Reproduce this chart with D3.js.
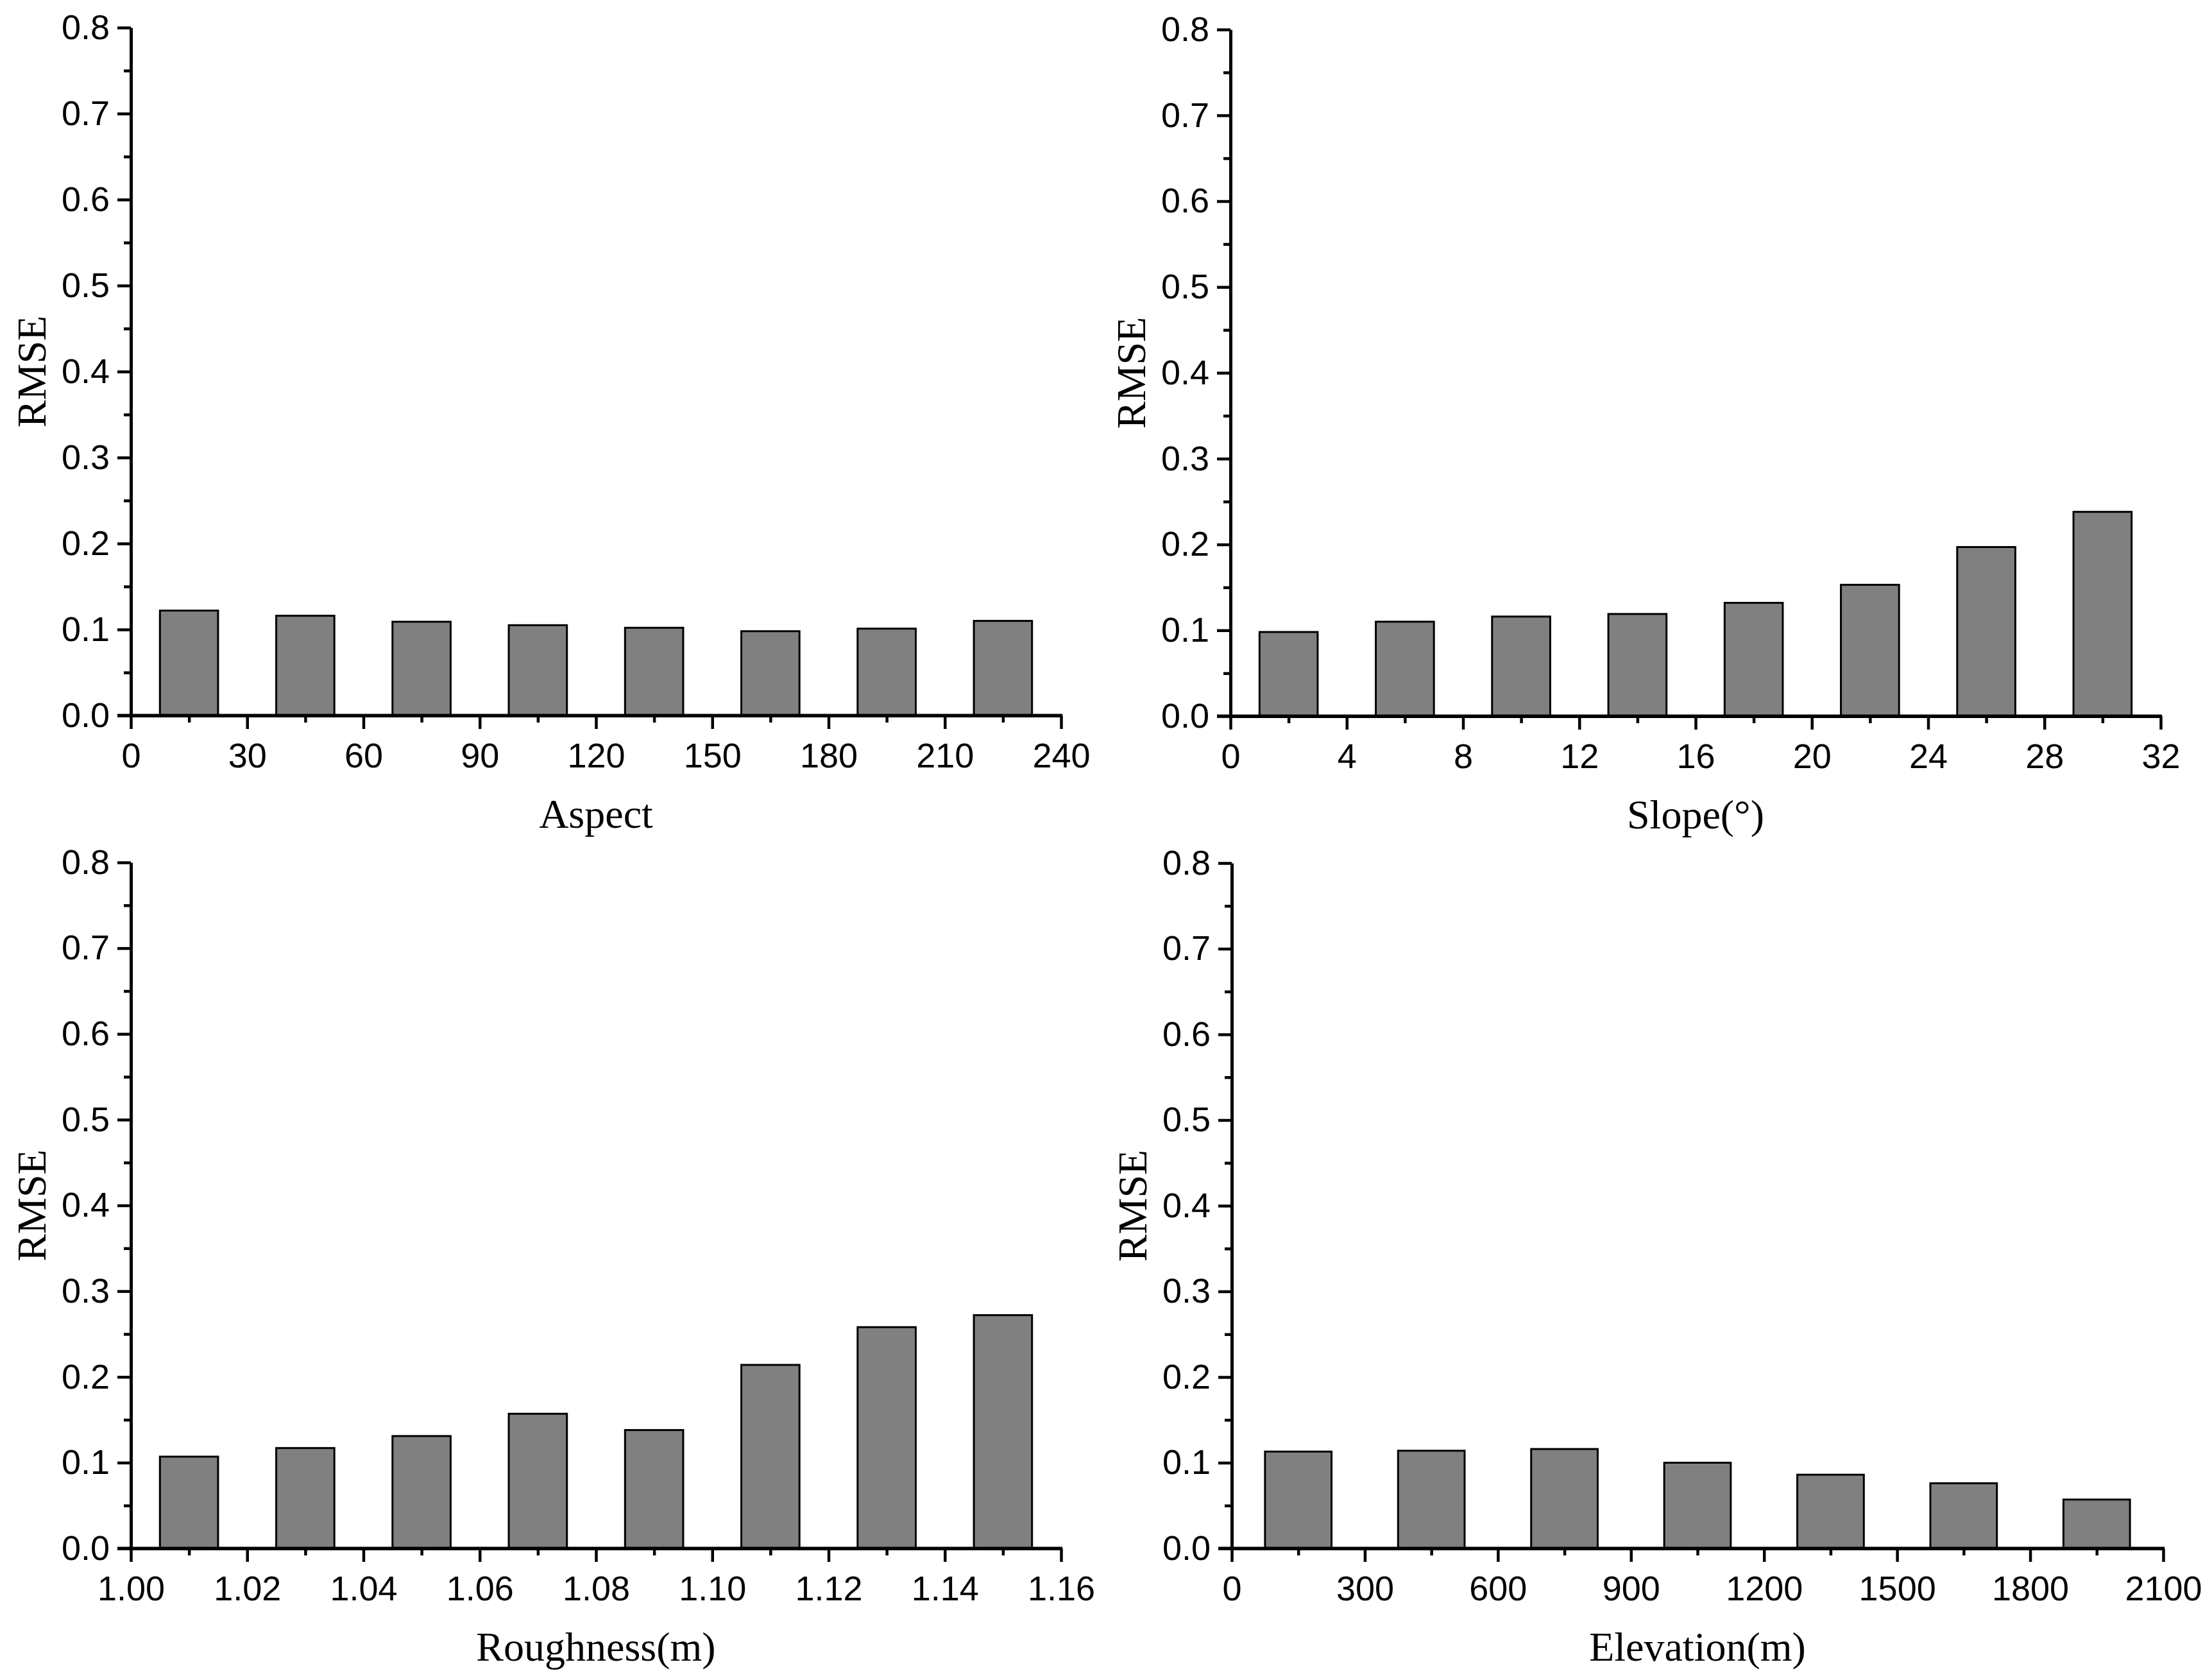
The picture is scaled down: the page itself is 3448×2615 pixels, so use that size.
<!DOCTYPE html>
<html>
<head>
<meta charset="utf-8">
<script src="https://cdn.jsdelivr.net/npm/d3@7.9.0/dist/d3.min.js"></script>
<style>
  body { margin: 0; background: #fff; }
  .tick text { font-family: "Liberation Sans", Arial, sans-serif; }
  .title { font-family: "Liberation Serif", "Times New Roman", serif; }
</style>
</head>
<body>
<svg id="chart" width="3448" height="2615"></svg>
<script>
// ---- data ----
const rmseTicks = [0.0, 0.1, 0.2, 0.3, 0.4, 0.5, 0.6, 0.7, 0.8];

const aspectTicks = [0, 30, 60, 90, 120, 150, 180, 210, 240];
const aspectBins = [15, 45, 75, 105, 135, 165, 195, 225];
const aspectRMSE = [0.122, 0.116, 0.109, 0.105, 0.102, 0.098, 0.101, 0.110];

const slopeTicks = [0, 4, 8, 12, 16, 20, 24, 28, 32];
const slopeBins = [2, 6, 10, 14, 18, 22, 26, 30];
const slopeRMSE = [0.098, 0.110, 0.116, 0.119, 0.132, 0.153, 0.197, 0.238];

const roughTicks = [1.00, 1.02, 1.04, 1.06, 1.08, 1.10, 1.12, 1.14, 1.16];
const roughBins = [1.01, 1.03, 1.05, 1.07, 1.09, 1.11, 1.13, 1.15];
const roughRMSE = [0.107, 0.117, 0.131, 0.157, 0.138, 0.214, 0.258, 0.272];

const elevTicks = [0, 300, 600, 900, 1200, 1500, 1800, 2100];
const elevBins = [150, 450, 750, 1050, 1350, 1650, 1950];
const elevRMSE = [0.113, 0.114, 0.116, 0.100, 0.086, 0.076, 0.057];

const panels = [
  { title: 'Aspect', ticks: aspectTicks, bins: aspectBins, values: aspectRMSE, fmt: d3.format('d'),
    left: 204, right: 1654, top: 43, bottom: 1115 },
  { title: 'Slope(°)', ticks: slopeTicks, bins: slopeBins, values: slopeRMSE, fmt: d3.format('d'),
    left: 1918, right: 3368, top: 46, bottom: 1116 },
  { title: 'Roughness(m)', ticks: roughTicks, bins: roughBins, values: roughRMSE, fmt: d3.format('.2f'),
    left: 204, right: 1654, top: 1344, bottom: 2413 },
  { title: 'Elevation(m)', ticks: elevTicks, bins: elevBins, values: elevRMSE, fmt: d3.format('d'),
    left: 1920, right: 3372, top: 1345, bottom: 2413 },
];

const svg = d3.select('#chart');
svg.append('rect').attr('width', 3448).attr('height', 2615).attr('fill', '#fff');

function midpoints(arr) {
  return arr.slice(1).map((v, i) => (v + arr[i]) / 2);
}

function drawPanel(p) {
  const x = d3.scaleLinear().domain(d3.extent(p.ticks)).range([p.left, p.right]);
  const y = d3.scaleLinear().domain([0, 0.8]).range([p.bottom, p.top]);
  const step = p.ticks[1] - p.ticks[0];

  const g = svg.append('g');

  // bars (half a bin wide, centred in each bin)
  g.append('g')
    .selectAll('rect')
    .data(p.bins.map((b, i) => ({ bin: b, value: p.values[i] })))
    .join('rect')
    .attr('x', (d) => x(d.bin - step / 4))
    .attr('width', (d) => x(d.bin + step / 4) - x(d.bin - step / 4))
    .attr('y', (d) => y(d.value))
    .attr('height', (d) => y(0) - y(d.value))
    .attr('fill', '#808080')
    .attr('stroke', '#000')
    .attr('stroke-width', 3);

  // minor ticks
  g.append('g')
    .attr('transform', `translate(0,${p.bottom})`)
    .call(d3.axisBottom(x).tickValues(midpoints(p.ticks)).tickSize(11).tickSizeOuter(0).tickFormat(''))
    .call((a) => a.select('.domain').remove());
  g.append('g')
    .attr('transform', `translate(${p.left},0)`)
    .call(d3.axisLeft(y).tickValues(midpoints(rmseTicks)).tickSize(11).tickSizeOuter(0).tickFormat(''))
    .call((a) => a.select('.domain').remove());

  // major axes
  const xAxis = g.append('g')
    .attr('transform', `translate(0,${p.bottom})`)
    .call(d3.axisBottom(x).tickValues(p.ticks).tickSize(21).tickSizeOuter(0).tickPadding(22).tickFormat(p.fmt));
  const yAxis = g.append('g')
    .attr('transform', `translate(${p.left},0)`)
    .call(d3.axisLeft(y).tickValues(rmseTicks).tickSize(21).tickSizeOuter(0).tickPadding(12).tickFormat(d3.format('.1f')));

  g.selectAll('.tick line').attr('stroke', '#000').attr('stroke-width', 4.5);
  g.selectAll('.domain').attr('stroke', '#000').attr('stroke-width', 5);
  g.selectAll('.tick text').attr('font-size', 54).attr('fill', '#000');

  // extend x axis line left to meet the 0.0 tick
  g.append('line')
    .attr('x1', p.left - 21).attr('x2', p.right + 2)
    .attr('y1', p.bottom).attr('y2', p.bottom)
    .attr('stroke', '#000').attr('stroke-width', 5);

  // titles
  g.append('text')
    .attr('class', 'title')
    .attr('x', (p.left + p.right) / 2)
    .attr('y', p.bottom + 175)
    .attr('text-anchor', 'middle')
    .attr('font-size', 64)
    .text(p.title);

  g.append('text')
    .attr('class', 'title')
    .attr('transform', `translate(${p.left - 133},${(p.top + p.bottom) / 2}) rotate(-90)`)
    .attr('text-anchor', 'middle')
    .attr('font-size', 64)
    .text('RMSE');
}

panels.forEach(drawPanel);
</script>
</body>
</html>
